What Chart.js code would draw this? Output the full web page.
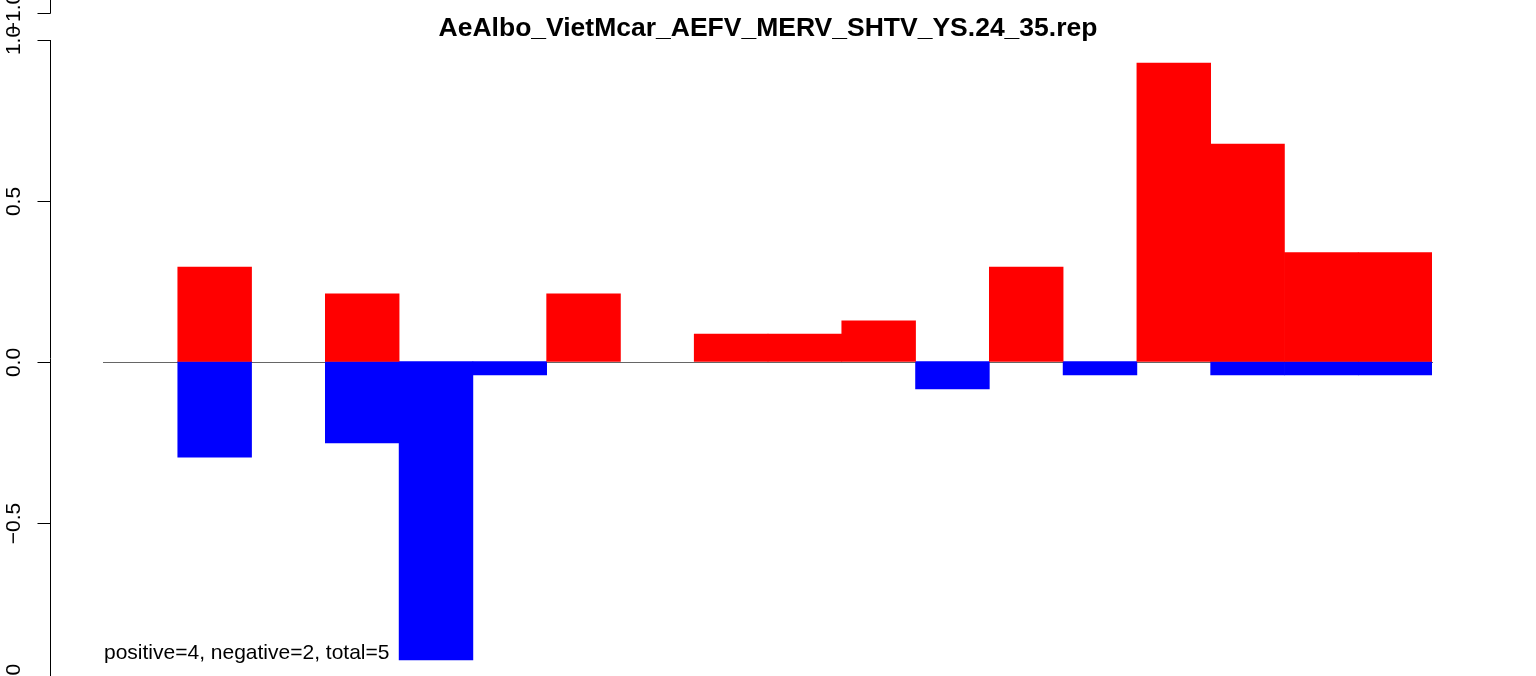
<!DOCTYPE html>
<html>
<head>
<meta charset="utf-8">
<style>
html,body{margin:0;padding:0;background:#fff;}
#wrap{width:1536px;height:676px;position:relative;}
</style>
<script src="https://cdn.jsdelivr.net/npm/chart.js@4/dist/chart.umd.min.js"></script>
</head>
<body>
<div id="wrap"><canvas id="c" width="1536" height="676"></canvas></div>
<script>
const titleText = "AeAlbo_VietMcar_AEFV_MERV_SHTV_YS.24_35.rep";
const noteText = "positive=4, negative=2, total=5";
const categories = ["1","2","3","4","5","6","7","8","9","10","11","12","13","14","15","16","17","18"];
const positiveValues = [0, 0.293, 0, 0.210, 0, 0, 0.210, 0, 0.085, 0.085, 0.126, 0, 0.293, 0, 0.927, 0.675, 0.338, 0.338];
const negativeValues = [0, -0.297, 0, -0.253, -0.927, -0.042, 0, 0, 0, 0, 0, -0.085, 0, -0.042, 0, -0.042, -0.042, -0.042];
const yTicks = [-1.0, -0.5, 0.0, 0.5, 1.0];
const yTickLabels = ["\u22121.0", "\u22120.5", "0.0", "0.5", "1.0"];
const upperPanelTickLabel = "\u22121.0";

const FONT = '"Liberation Sans", Arial, Helvetica, sans-serif';

const axisPlugin = {
  id: 'rAxis',
  beforeDatasetsDraw(chart) {
    const ctx = chart.ctx;
    const y = chart.scales.y;
    const area = chart.chartArea;
    const y0 = y.getPixelForValue(0);
    ctx.save();
    ctx.strokeStyle = '#666666';
    ctx.lineWidth = 1;
    ctx.beginPath();
    ctx.moveTo(area.left - 1, Math.round(y0) + 0.5);
    ctx.lineTo(area.right + 1, Math.round(y0) + 0.5);
    ctx.stroke();
    ctx.restore();
  },
  afterDraw(chart) {
    const ctx = chart.ctx;
    const y = chart.scales.y;
    const axisX = 50.5;
    const tickLen = 13;
    ctx.save();
    ctx.strokeStyle = '#000';
    ctx.lineWidth = 1;
    const top = Math.round(y.getPixelForValue(yTicks[yTicks.length - 1]));
    const bot = Math.round(y.getPixelForValue(yTicks[0]));
    ctx.beginPath();
    ctx.moveTo(axisX, top);
    ctx.lineTo(axisX, bot);
    ctx.stroke();
    ctx.font = '21px ' + FONT;
    ctx.fillStyle = '#000';
    ctx.textAlign = 'center';
    ctx.textBaseline = 'middle';
    yTicks.forEach((v, i) => {
      const py = Math.round(y.getPixelForValue(v)) + 0.5;
      ctx.beginPath();
      ctx.moveTo(axisX - tickLen, py);
      ctx.lineTo(axisX, py);
      ctx.stroke();
      ctx.save();
      ctx.translate(14, py);
      ctx.rotate(-Math.PI / 2);
      ctx.fillText(yTickLabels[i], 0, 0);
      ctx.restore();
    });
    // fragment of the panel above (its lowest tick)
    const upY = top - 27 + 0.5;
    ctx.beginPath();
    ctx.moveTo(axisX, 0);
    ctx.lineTo(axisX, upY);
    ctx.moveTo(axisX - tickLen, upY);
    ctx.lineTo(axisX, upY);
    ctx.stroke();
    ctx.save();
    ctx.translate(14, upY);
    ctx.rotate(-Math.PI / 2);
    ctx.fillText(upperPanelTickLabel, 0, 0);
    ctx.restore();
    // title
    ctx.font = 'bold 26.5px ' + FONT;
    ctx.textAlign = 'center';
    ctx.fillText(titleText, 768, 29);
    // note
    ctx.font = '21px ' + FONT;
    ctx.textAlign = 'left';
    ctx.fillText(noteText, chart.chartArea.left, 653);
    ctx.restore();
  }
};

const zeroPix = 361.5, perUnit = 322, H = 676;
const toBar = v => (v === 0 ? null : v);
new Chart(document.getElementById('c'), {
  type: 'bar',
  data: {
    labels: categories,
    datasets: [
      { data: positiveValues.map(toBar), backgroundColor: '#FF0000', borderWidth: 0, barPercentage: 1, categoryPercentage: 1 },
      { data: negativeValues.map(toBar), backgroundColor: '#0000FF', borderWidth: 0, barPercentage: 1, categoryPercentage: 1 }
    ]
  },
  options: {
    responsive: false,
    animation: false,
    devicePixelRatio: 1,
    layout: { padding: { left: 104, right: 104, top: 0, bottom: 0 } },
    plugins: { legend: { display: false }, tooltip: { enabled: false }, title: { display: false } },
    scales: {
      x: { stacked: true, display: false, offset: true, grid: { display: false } },
      y: { stacked: true, display: false, min: -(H - zeroPix) / perUnit, max: zeroPix / perUnit, grid: { display: false } }
    }
  },
  plugins: [axisPlugin]
});
</script>
</body>
</html>
